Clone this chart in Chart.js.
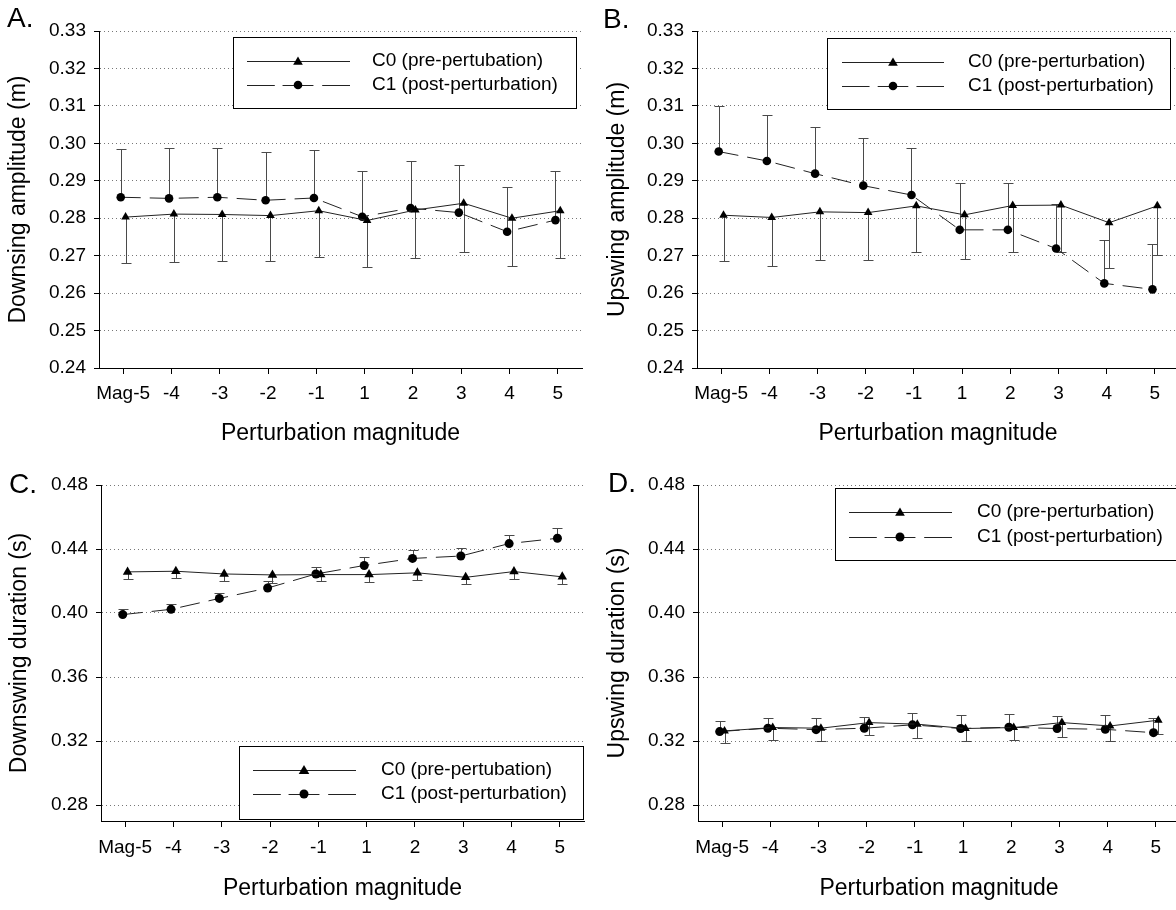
<!DOCTYPE html>
<html>
<head>
<meta charset="utf-8">
<script src="https://cdn.jsdelivr.net/npm/chart.js@4.4.0/dist/chart.umd.min.js"></script>
<style>
  html, body { margin:0; padding:0; background:#fff; overflow:hidden; width:1176px; height:910px; }
  canvas { position:absolute; }
  .lbl { position:absolute; font-family:"Liberation Sans", Arial, sans-serif; font-size:28px; color:#000; line-height:1; }
</style>
</head>
<body>
<canvas id="cA" width="600" height="455" style="left:0px;top:0px;"></canvas>
<canvas id="cB" width="600" height="455" style="left:590px;top:0px;"></canvas>
<canvas id="cC" width="600" height="455" style="left:0px;top:455px;"></canvas>
<canvas id="cD" width="600" height="455" style="left:590px;top:455px;"></canvas>
<div class="lbl" style="left:7px;top:4px;">A.</div>
<div class="lbl" style="left:603px;top:5px;">B.</div>
<div class="lbl" style="left:9px;top:470px;">C.</div>
<div class="lbl" style="left:608px;top:469px;">D.</div>
<script>
// ---------- data ----------
const CATEGORIES = ["Mag-5", "-4", "-3", "-2", "-1", "1", "2", "3", "4", "5"];
const Y_TICKS_AMP = [0.24, 0.25, 0.26, 0.27, 0.28, 0.29, 0.30, 0.31, 0.32, 0.33];
const Y_TICKS_DUR = [0.28, 0.32, 0.36, 0.40, 0.44, 0.48];
const X_TITLE = "Perturbation magnitude";

// Panel A: downswing amplitude (m)
const A_C0 = [0.2803, 0.2811, 0.2810, 0.2807, 0.2820, 0.2794, 0.2822, 0.2840, 0.2800, 0.2820];
const A_C0_SD = [0.0123, 0.0128, 0.0125, 0.0122, 0.0123, 0.0125, 0.0127, 0.0131, 0.0127, 0.0126];
const A_C1 = [0.2856, 0.2853, 0.2856, 0.2848, 0.2854, 0.2804, 0.2827, 0.2815, 0.2764, 0.2795];
const A_C1_SD = [0.0128, 0.0134, 0.0132, 0.0129, 0.0129, 0.0122, 0.0126, 0.0126, 0.0119, 0.0131];

// Panel B: upswing amplitude (m)
const B_C0 = [0.2808, 0.2802, 0.2817, 0.2815, 0.2833, 0.2809, 0.2834, 0.2835, 0.2788, 0.2833];
const B_C0_SD = [0.0122, 0.0130, 0.0129, 0.0126, 0.0124, 0.0119, 0.0125, 0.0125, 0.0120, 0.0132];
const B_C1 = [0.2978, 0.2953, 0.2919, 0.2887, 0.2862, 0.2769, 0.2769, 0.2719, 0.2626, 0.2610];
const B_C1_SD = [0.0122, 0.0124, 0.0124, 0.0127, 0.0126, 0.0125, 0.0125, 0.0120, 0.0117, 0.0122];

// Panel C: downswing duration (s)
const C_C0 = [0.4257, 0.4261, 0.4244, 0.4238, 0.4240, 0.4240, 0.4251, 0.4223, 0.4259, 0.4226];
const C_C0_SD = [0.0042, 0.0042, 0.0046, 0.0049, 0.0038, 0.0046, 0.0047, 0.0042, 0.0048, 0.0045];
const C_C1 = [0.3990, 0.4023, 0.4091, 0.4156, 0.4244, 0.4297, 0.4341, 0.4356, 0.4434, 0.4467];
const C_C1_SD = [0.0033, 0.0034, 0.0035, 0.0042, 0.0042, 0.0050, 0.0053, 0.0050, 0.0054, 0.0064];

// Panel D: upswing duration (s)
const D_C0 = [0.3263, 0.3284, 0.3280, 0.3315, 0.3305, 0.3278, 0.3284, 0.3315, 0.3294, 0.3330];
const D_C0_SD = [0.0076, 0.0080, 0.0080, 0.0077, 0.0088, 0.0078, 0.0080, 0.0088, 0.0094, 0.0088];
const D_C1 = [0.3259, 0.3280, 0.3271, 0.3280, 0.3301, 0.3278, 0.3286, 0.3278, 0.3273, 0.3252];
const D_C1_SD = [0.0065, 0.0066, 0.0074, 0.0073, 0.0077, 0.0085, 0.0082, 0.0077, 0.0088, 0.0091];

// ---------- styling / helpers ----------
const FONT = '"Liberation Sans", Arial, sans-serif';
const C0_SHIFT = 0.05, C1_SHIFT = -0.05;   // slight horizontal separation of the two series

function pts(values, shift) { return values.map((v, i) => ({ x: i + shift, y: v })); }

const errorBarPlugin = {
  id: 'errorBars',
  beforeDatasetsDraw(chart) {
    const ctx = chart.ctx, xs = chart.scales.x, ys = chart.scales.y;
    chart.data.datasets.forEach(ds => {
      if (!ds.errors) return;
      ctx.save();
      ctx.strokeStyle = '#4a4a4a';
      ctx.lineWidth = 1;
      ds.data.forEach((p, i) => {
        const x = Math.round(xs.getPixelForValue(p.x)) + 0.5;
        const y0 = ys.getPixelForValue(p.y);
        const y1 = Math.round(ys.getPixelForValue(p.y + ds.errorDir * ds.errors[i])) + 0.5;
        ctx.beginPath();
        ctx.moveTo(x, y0); ctx.lineTo(x, y1);
        ctx.moveTo(x - 5, y1); ctx.lineTo(x + 5, y1);
        ctx.stroke();
      });
      ctx.restore();
    });
  }
};

function drawTriangle(ctx, x, y, r) {
  ctx.beginPath();
  let a = 0;
  ctx.moveTo(x + Math.sin(a) * r, y - Math.cos(a) * r);
  a += 2 * Math.PI / 3;
  ctx.lineTo(x + Math.sin(a) * r, y - Math.cos(a) * r);
  a += 2 * Math.PI / 3;
  ctx.lineTo(x + Math.sin(a) * r, y - Math.cos(a) * r);
  ctx.closePath();
  ctx.fill();
}

const boxLegendPlugin = {
  id: 'boxLegend',
  afterDraw(chart, args, o) {
    if (!o || !o.box) return;
    const ctx = chart.ctx;
    const b = o.box;
    ctx.save();
    ctx.fillStyle = '#fff';
    ctx.fillRect(b.x, b.y, b.w, b.h);
    ctx.strokeStyle = '#000';
    ctx.lineWidth = 1;
    ctx.strokeRect(b.x + 0.5, b.y + 0.5, b.w, b.h);
    ctx.font = '19px ' + FONT;
    ctx.textBaseline = 'middle';
    ctx.textAlign = 'left';
    ctx.fillStyle = '#000';
    const ds = chart.data.datasets;
    // row 1: solid + triangle
    ctx.strokeStyle = '#222';
    ctx.beginPath();
    ctx.moveTo(o.lineX1, o.row1 + 0.5); ctx.lineTo(o.lineX2, o.row1 + 0.5);
    ctx.stroke();
    ctx.fillStyle = '#000';
    drawTriangle(ctx, o.markX, o.row1 + 1, ds[0].pointRadius + 0.6);
    ctx.fillText(ds[0].label, o.textX, o.row1);
    // row 2: dashed + circle
    const L = o.lineX2 - o.lineX1, m = o.markX;
    const segs = [[o.lineX1, o.lineX1 + L * 0.27], [m - L * 0.15, m - 4], [m + 4, m + L * 0.15], [o.lineX2 - L * 0.27, o.lineX2]];
    ctx.beginPath();
    segs.forEach(s => { ctx.moveTo(s[0], o.row2 + 0.5); ctx.lineTo(s[1], o.row2 + 0.5); });
    ctx.stroke();
    ctx.beginPath();
    ctx.arc(m, o.row2, ds[1].pointRadius, 0, Math.PI * 2);
    ctx.fill();
    ctx.fillText(ds[1].label, o.textX, o.row2);
    ctx.restore();
  }
};

function makeChart(id, p) {
  const ctx = document.getElementById(id);
  return new Chart(ctx, {
    type: 'line',
    data: {
      datasets: [
        {
          label: p.c0Label, data: pts(p.c0, C0_SHIFT), errors: p.c0sd, errorDir: -1,
          borderColor: '#222', borderWidth: 1, pointStyle: 'triangle',
          pointRadius: p.triR, pointBackgroundColor: '#000', pointBorderColor: '#000', pointBorderWidth: 0,
          tension: 0, fill: false
        },
        {
          label: p.c1Label, data: pts(p.c1, C1_SHIFT), errors: p.c1sd, errorDir: 1,
          borderColor: '#222', borderWidth: 1, borderDash: [20, 9], pointStyle: 'circle',
          pointRadius: p.cirR, pointBackgroundColor: '#000', pointBorderColor: '#000', pointBorderWidth: 0,
          tension: 0, fill: false
        }
      ]
    },
    options: {
      responsive: false, animation: false, devicePixelRatio: 1,
      layout: { padding: { top: p.padTop, right: p.padRight, left: 0, bottom: 0 } },
      plugins: {
        legend: { display: false }, tooltip: { enabled: false }, title: { display: false },
        boxLegend: p.legend
      },
      scales: {
        x: {
          type: 'linear', min: -0.5, max: 9.5,
          afterBuildTicks: s => { s.ticks = CATEGORIES.map((c, i) => ({ value: i })); },
          afterFit: s => { s.height = p.xH; },
          ticks: { callback: v => CATEGORIES[Math.round(v)], font: { family: FONT, size: 19 }, color: '#000', padding: p.xTickPad, maxRotation: 0, autoSkip: false },
          grid: { display: true, drawOnChartArea: false, drawTicks: true, tickLength: 6, tickColor: '#000', color: '#000' },
          border: { display: true, color: '#000', width: 1 },
          title: { display: true, text: X_TITLE, font: { family: FONT, size: 23 }, color: '#000', padding: { top: 4, bottom: 8 } }
        },
        y: {
          type: 'linear', min: p.yMin, max: p.yMax,
          afterBuildTicks: s => { s.ticks = p.yTicks.map(v => ({ value: v })); },
          afterFit: s => { s.width = p.yW; },
          ticks: { callback: v => v.toFixed(2), font: { family: FONT, size: 19 }, color: '#000', padding: 8 },
          grid: { display: true, drawOnChartArea: true, drawTicks: true, tickLength: 5, tickColor: '#000', color: '#777', lineWidth: 1 },
          border: { display: true, color: '#000', width: 1, dash: [1, 3] },
          title: { display: true, text: p.yTitle, font: { family: FONT, size: 23 }, color: '#000', padding: { top: p.yTitlePad, bottom: 0 } }
        }
      }
    },
    plugins: [errorBarPlugin, boxLegendPlugin]
  });
}

makeChart('cA', {
  c0: A_C0, c0sd: A_C0_SD, c1: A_C1, c1sd: A_C1_SD,
  c0Label: 'C0 (pre-pertubation)', c1Label: 'C1 (post-perturbation)',
  yTitle: 'Downsing amplitude (m)', yTicks: Y_TICKS_AMP, yMin: 0.24, yMax: 0.33,
  padTop: 31, padRight: 18, yW: 99, xH: 87, xTickPad: 8, yTitlePad: 5,
  triR: 5, cirR: 4.3,
  legend: { box: { x: 233, y: 37, w: 343, h: 71 }, row1: 61, row2: 85, lineX1: 247, lineX2: 350, markX: 298, textX: 372 }
});
makeChart('cB', {
  c0: B_C0, c0sd: B_C0_SD, c1: B_C1, c1sd: B_C1_SD,
  c0Label: 'C0 (pre-perturbation)', c1Label: 'C1 (post-perturbation)',
  yTitle: 'Upswing amplitude (m)', yTicks: Y_TICKS_AMP, yMin: 0.24, yMax: 0.33,
  padTop: 31, padRight: 11, yW: 107, xH: 87, xTickPad: 8, yTitlePad: 14,
  triR: 5, cirR: 4.3,
  legend: { box: { x: 237, y: 38, w: 343, h: 71 }, row1: 62, row2: 86, lineX1: 252, lineX2: 354, markX: 303, textX: 378 }
});
makeChart('cC', {
  c0: C_C0, c0sd: C_C0_SD, c1: C_C1, c1sd: C_C1_SD,
  c0Label: 'C0 (pre-pertubation)', c1Label: 'C1 (post-perturbation)',
  yTitle: 'Downswing duration (s)', yTicks: Y_TICKS_DUR, yMin: 0.27, yMax: 0.48,
  padTop: 30, padRight: 16, yW: 101, xH: 89, xTickPad: 9, yTitlePad: 6,
  triR: 5.5, cirR: 4.5,
  legend: { box: { x: 239, y: 291, w: 344, h: 73 }, row1: 315, row2: 339, lineX1: 253, lineX2: 356, markX: 304, textX: 381 }
});
makeChart('cD', {
  c0: D_C0, c0sd: D_C0_SD, c1: D_C1, c1sd: D_C1_SD,
  c0Label: 'C0 (pre-perturbation)', c1Label: 'C1 (post-perturbation)',
  yTitle: 'Upswing duration (s)', yTicks: Y_TICKS_DUR, yMin: 0.27, yMax: 0.48,
  padTop: 30, padRight: 10, yW: 108, xH: 89, xTickPad: 9, yTitlePad: 14,
  triR: 5, cirR: 4.5,
  legend: { box: { x: 245, y: 33, w: 360, h: 72 }, row1: 57, row2: 82, lineX1: 259, lineX2: 362, markX: 310, textX: 387 }
});
</script>
</body>
</html>
